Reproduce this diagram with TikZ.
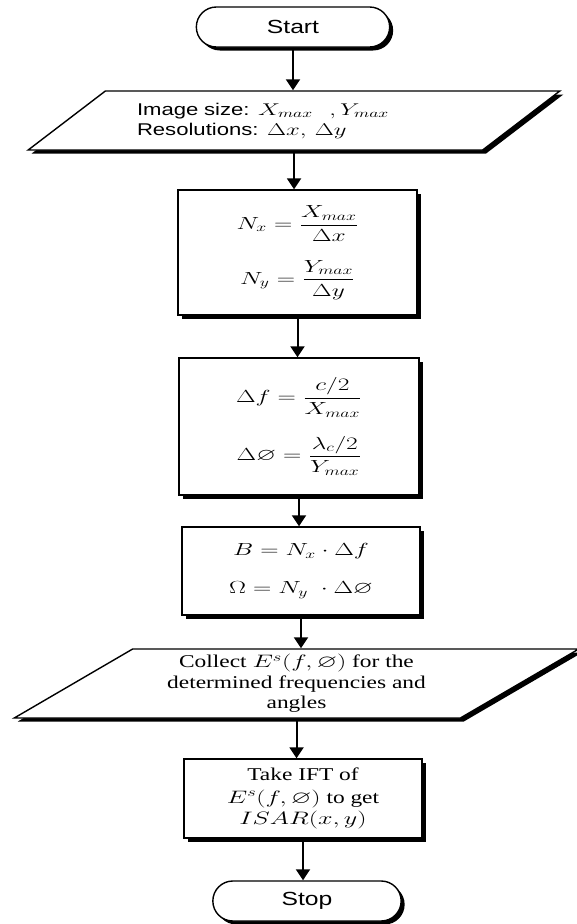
\documentclass[tikz,border=0pt]{standalone}
\usepackage{fix-cm}
\usepackage{amssymb}
\usepackage{fontspec}
\setmainfont{Liberation Serif}[FakeStretch=1.3]
\setsansfont{Liberation Sans}[FakeStretch=1.3]
\usetikzlibrary{shapes.geometric,shapes.misc,shadows,arrows.meta}

\newcommand{\wm}[1]{\scalebox{1.45}[1]{$#1$}}
\newcommand{\wdm}[1]{\scalebox{1.45}[1]{$\displaystyle #1$}}

\tikzset{
  shadebox/.style={draw, line width=1.4pt, fill=white,
    drop shadow={shadow xshift=3.5pt, shadow yshift=-3.5pt, fill=black, opacity=1}},
  terminal/.style={shadebox, rounded rectangle, minimum height=40pt,
    font=\sffamily\fontsize{19}{22}\selectfont},
  iobox/.style={shadebox, trapezium, trapezium stretches=true, inner sep=0pt},
  procbox/.style={shadebox, rectangle, inner sep=0pt, align=center,
    font=\fontsize{17.5}{20}\selectfont},
  flow/.style={line width=2pt, -{Triangle[width=14pt,length=11pt]}}
}

\begin{document}
\begin{tikzpicture}[x=1pt,y=-1pt]
  \useasboundingbox (0,0) rectangle (577,924);
  \node[terminal, minimum width=200pt] (start) at (293,27) {Start};
  \node[iobox, trapezium left angle=29, trapezium right angle=151,
    minimum width=532pt, minimum height=59pt, text width=314pt, align=left,
    font=\sffamily\fontsize{17}{20}\selectfont] (input) at (294,120.5)
    {Image size: \wm{X_{max}\ \ ,Y_{max}}\\Resolutions: \wm{\Delta x,\,\Delta y}};
  \node[procbox, minimum width=239pt, minimum height=125pt] (cells) at (297.5,252.5)
    {\wdm{N_x=\frac{X_{max}}{\Delta x}}\\[18pt]\wdm{N_y=\frac{Y_{max}}{\Delta y}}};
  \node[procbox, minimum width=240pt, minimum height=137pt] (steps) at (299,426.5)
    {\wdm{\Delta f=\frac{c/2}{X_{max}}}\\[18pt]\wdm{\Delta\varnothing=\frac{\lambda_c/2}{Y_{max}}}};
  \node[procbox, minimum width=238pt, minimum height=88pt] (band) at (301,571)
    {\wm{B=N_x\cdot\Delta f}\\[18pt]\wm{\Omega=N_y\;\cdot\Delta\varnothing}};
  \node[iobox, trapezium left angle=32, trapezium right angle=148,
    minimum width=565pt, minimum height=69pt, align=center,
    font=\fontsize{18}{20.5}\selectfont] (collect) at (296.5,683.5)
    {Collect \wm{E^s(f,\varnothing)} for the\\determined frequencies and\\angles};
  \node[procbox, minimum width=238pt, minimum height=79pt,
    font=\fontsize{18}{21}\selectfont] (ift) at (303,798.5)
    {Take IFT of\\[1.5pt]\wm{E^s(f,\varnothing)} to get\\\wm{ISAR(x,y)}};
  \node[terminal, minimum width=195pt] (stop) at (307,901) {Stop};
  \draw[flow] (start.south) -- (start.south |- input.north);
  \draw[flow] (input.south) -- (input.south |- cells.north);
  \draw[flow] (cells.south) -- (cells.south |- steps.north);
  \draw[flow] (steps.south) -- (steps.south |- band.north);
  \draw[flow] (band.south) -- (band.south |- collect.north);
  \draw[flow] (collect.south) -- (collect.south |- ift.north);
  \draw[flow] (ift.south) -- (ift.south |- stop.north);
\end{tikzpicture}
\end{document}
